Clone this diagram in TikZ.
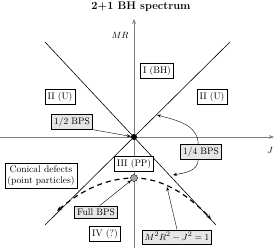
\documentclass[tikz,border=0pt]{standalone}
\usetikzlibrary{arrows.meta}
\tikzset{
  region/.style={draw, thick, fill=white, font=\fontsize{9.5}{11}\selectfont, inner sep=2.5pt},
  bps/.style={draw, thick, fill=gray!20, font=\fontsize{9.5}{11}\selectfont, inner sep=2.5pt},
  pointer/.style={->, >={Stealth[length=4pt,width=3pt]}, thin},
}
\begin{document}
\begin{tikzpicture}[x=1pt,y=1pt]
	\useasboundingbox (0,0) rectangle (277,250);
	\node[font=\fontsize{11}{13}\selectfont\bfseries] (title) at (141,243) {2+1 BH spectrum};
	% axes
	\coordinate (jl) at (0,113);
	\coordinate (jr) at (274,113);
	\coordinate (mb) at (134,2);
	\coordinate (mt) at (134,231);
	\draw[->,gray,>={Stealth[length=5pt]}] (jl) -- (jr);
	\draw[->,gray,>={Stealth[length=5pt]}] (mb) -- (mt);
	\node[font=\small] (jlab) at (270,100) {$J$};
	\node[font=\small] (mrlab) at (120,215) {$MR$};
	% extremal lines
	\coordinate (ul) at (45,208);
	\coordinate (lr) at (216,25);
	\coordinate (ur) at (230,208);
	\coordinate (ll) at (45,25);
	\draw[semithick] (ul) -- (lr);
	\draw[semithick] (ur) -- (ll);
	% hyperbola
	\coordinate (hl) at (57,39);
	\coordinate (hp) at (134,72);
	\coordinate (hr) at (211,31);
	\draw[very thick,dash pattern=on 5pt off 4pt,<->,>={Stealth[length=5pt]}]
		(hl) .. controls (82.7,61) and (108.3,72) .. (hp)
		.. controls (159.3,72) and (184.7,58.7) .. (hr);
	\node[circle,fill=black,inner sep=0pt,minimum size=6pt] (O) at (134,113) {};
	\node[circle,draw,fill=gray!70,inner sep=0pt,minimum size=7pt] (full dot) at (hp) {};
	% regions
	\node[region] (I) at (157,179) {I (BH)};
	\node[region] (IIl) at (60,153) {II (U)};
	\node[region] (IIr) at (212,153) {II (U)};
	\node[region] (III) at (134,86) {III (PP)};
	\node[region] (IV) at (105,16) {IV (?)};
	\node[region,align=center] (conical) at (41,74) {Conical defects\\(point particles)};
	% BPS labels
	\node[bps] (half) at (72,128) {1/2 BPS};
	\node[bps] (quarter) at (201,98) {1/4 BPS};
	\node[bps] (fullbps) at (96,38) {Full BPS};
	\node[bps] (hyp) at (177,13) {$M^2R^2-J^2=1$};
	\coordinate (q1) at (157,135);
	\coordinate (q2) at (173,75);
	\coordinate (hpt) at (167,63);
	\draw[pointer] (half.south east) -- (O);
	\draw[pointer] (quarter.110) to[out=90,in=-15] (q1);
	\draw[pointer] (quarter.250) to[out=-90,in=10] (q2);
	\draw[pointer] (fullbps.60) -- (full dot);
	\draw[pointer] (hyp.north) -- (hpt);
\end{tikzpicture}
\end{document}
